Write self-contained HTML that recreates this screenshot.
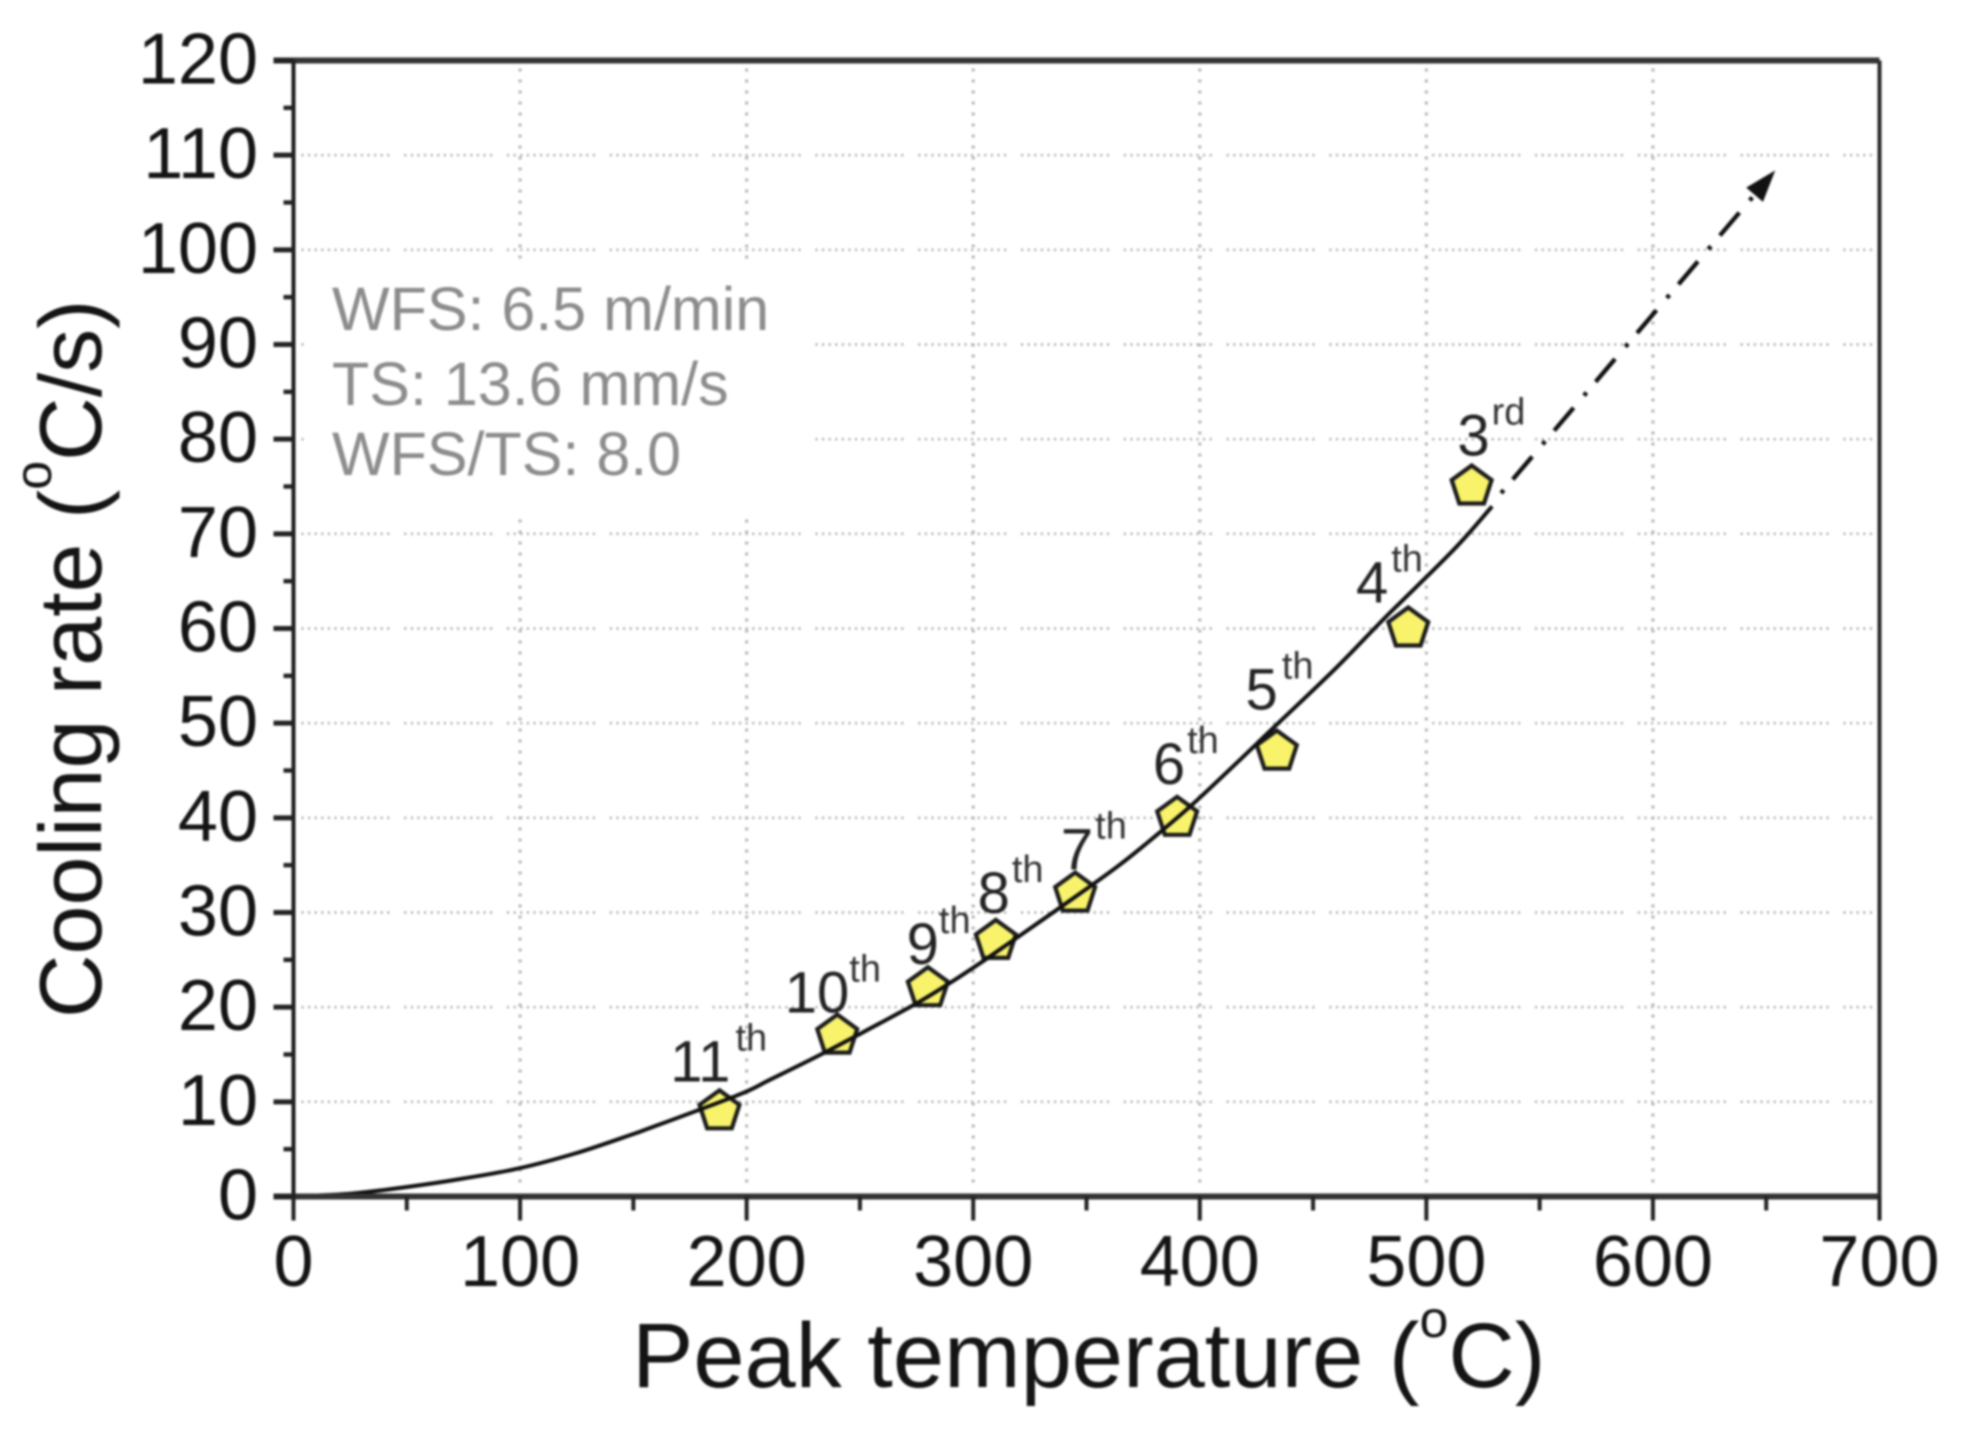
<!DOCTYPE html>
<html lang="en">
<head>
<meta charset="utf-8">
<title>Cooling rate vs peak temperature</title>
<style>
html,body{margin:0;padding:0;background:#fff;width:1968px;height:1435px;overflow:hidden}
svg{display:block;filter:blur(1.1px)}
text{font-family:"Liberation Sans",sans-serif;fill:#141414}
</style>
</head>
<body>
<svg id="chart" xmlns="http://www.w3.org/2000/svg" width="1968" height="1435" viewBox="0 0 1968 1435">
  <rect x="0" y="0" width="1968" height="1435" fill="#fff"/>
  <g id="grid"></g>
  <rect x="306" y="264" width="503" height="253" fill="#fff"/>
  <g font-size="61" style="fill:#8c8c8c">
    <text x="332" y="330" style="fill:#8c8c8c">WFS: 6.5 m/min</text>
    <text x="332" y="405" style="fill:#8c8c8c">TS: 13.6 mm/s</text>
    <text x="332" y="475" style="fill:#8c8c8c">WFS/TS: 8.0</text>
  </g>
  <g id="markers"></g>
  <g id="lines"></g>
  <g id="point-labels"></g>
  <g id="axes"></g>
  <text x="632" y="1387" font-size="92">Peak temperature (<tspan font-size="52" dy="-50">o</tspan><tspan dy="50">C)</tspan></text>
  <text transform="translate(101,1018) rotate(-90)" font-size="88">Cooling rate (<tspan font-size="52" dy="-50">o</tspan><tspan dy="50">C/s)</tspan></text>
</svg>
<script>
// Chart values
const xTicks = [0, 100, 200, 300, 400, 500, 600, 700];
const yTicks = [0, 10, 20, 30, 40, 50, 60, 70, 80, 90, 100, 110, 120];
const xMinorTicks = [50, 150, 250, 350, 450, 550, 650];
const yMinorTicks = [5, 15, 25, 35, 45, 55, 65, 75, 85, 95, 105, 115];

const pointTemps = [188, 240, 280, 310, 345, 390, 434, 492, 520];
const pointRates = [9, 17, 22, 27, 32, 40, 47, 60, 75];
const pointOrdinals = ['11', '10', '9', '8', '7', '6', '5', '4', '3'];
const pointSuffixes = ['th', 'th', 'th', 'th', 'th', 'th', 'th', 'th', 'rd'];

const fitTemps = [0, 25, 50, 75, 100, 125, 150, 157, 196, 210, 232, 251, 275, 290, 304, 319, 337, 353, 365, 378, 399, 432, 460, 482, 512, 529];
const fitRates = [0, 0.3, 1, 1.9, 3, 4.6, 6.6, 7.2, 10.7, 12.3, 14.9, 17.3, 20.4, 22.6, 24.8, 27.3, 30.3, 33, 35.1, 37.6, 41.9, 49.4, 55.8, 61.2, 68.3, 72.9];

const extrapolationTemps = [533, 654];
const extrapolationRates = [74.3, 108.4];

// Axis functions
const X0 = 293.5, X1 = 1879.5, Y0 = 1196.5, Y1 = 60.5;
const xScale = v => X0 + (v - 0) / 700 * (X1 - X0);
const yScale = v => Y0 - (v - 0) / 120 * (Y0 - Y1);

const NS = 'http://www.w3.org/2000/svg';
const make = (tag, parent) => { const el = document.createElementNS(NS, tag); parent.appendChild(el); return el; };
const setAll = (el, attrs) => { for (const k in attrs) el.setAttribute(k, attrs[k]); return el; };

const gridLayer = document.getElementById('grid');
const axesLayer = document.getElementById('axes');
const markerLayer = document.getElementById('markers');
const lineLayer = document.getElementById('lines');
const labelLayer = document.getElementById('point-labels');

// Horizontal grid dash: runs of fine dots separated by a wider gap
const hDash = [];
for (let i = 0; i < 14; i++) hDash.push(2, 4.6);
hDash[hDash.length - 1] = 15;
const hDashStr = hDash.join(' ');

yTicks.filter(t => t > 0 && t < 120).forEach(t => {
  const g = make('line', gridLayer);
  
  
  setAll(g, {x1: X0 + 8, x2: X1 - 6, y1: yScale(t), y2: yScale(t), stroke: '#a8a8a8', 'stroke-width': 2.4, 'stroke-dasharray': hDashStr});
});
xTicks.filter(t => t > 0 && t < 700).forEach(t => {
  const g = make('line', gridLayer);
  
  
  setAll(g, {x1: xScale(t), x2: xScale(t), y1: Y1 + 8, y2: Y0 - 12, stroke: '#b4b4b4', 'stroke-width': 3, 'stroke-dasharray': '3 8'});
});

// Markers
const R = 21;
pointTemps.forEach((t, i) => {
  const cx = xScale(t), cy = yScale(pointRates[i]);
  const pts = [];
  for (let k = 0; k < 5; k++) {
    const a = -Math.PI / 2 + k * 2 * Math.PI / 5;
    pts.push((cx + R * Math.cos(a)).toFixed(1) + ',' + (cy + R * Math.sin(a)).toFixed(1));
  }
  const p = make('polygon', markerLayer);
  
  
  setAll(p, {points: pts.join(' '), fill: '#f8f36a', stroke: '#1c1c1c', 'stroke-width': 4.2, 'stroke-linejoin': 'miter'});
});

// Fit curve, smoothed through the read points
const fitPts = fitTemps.map((t, i) => [xScale(t), yScale(fitRates[i])]);
let fitD = 'M' + fitPts[0][0].toFixed(1) + ' ' + fitPts[0][1].toFixed(1);
for (let i = 0; i < fitPts.length - 1; i++) {
  const a = fitPts[Math.max(i - 1, 0)], b = fitPts[i], c = fitPts[i + 1], e = fitPts[Math.min(i + 2, fitPts.length - 1)];
  fitD += ' C' + (b[0] + (c[0] - a[0]) / 6).toFixed(1) + ' ' + (b[1] + (c[1] - a[1]) / 6).toFixed(1) + ' ' +
       (c[0] - (e[0] - b[0]) / 6).toFixed(1) + ' ' + (c[1] - (e[1] - b[1]) / 6).toFixed(1) + ' ' +
       c[0].toFixed(1) + ' ' + c[1].toFixed(1);
}
const fitPath = make('path', lineLayer);


setAll(fitPath, {d: fitD, fill: 'none', stroke: '#101010', 'stroke-width': 4});

// Dash-dot extrapolation with arrow head
const ex0 = xScale(extrapolationTemps[0]), ey0 = yScale(extrapolationRates[0]);
const ex1 = xScale(extrapolationTemps[1]), ey1 = yScale(extrapolationRates[1]);
const extLen = Math.hypot(ex1 - ex0, ey1 - ey0), ux = (ex1 - ex0) / extLen, uy = (ey1 - ey0) / extLen;
const extLine = make('line', lineLayer);


setAll(extLine, {x1: ex0, y1: ey0, x2: ex1 - ux * 24, y2: ey1 - uy * 24, stroke: '#101010', 'stroke-width': 4.4, 'stroke-dasharray': '4 14 30 16'});
const arrowHead = make('polygon', lineLayer);


const bx = ex1 - ux * 32, by = ey1 - uy * 32, nx = -uy, ny = ux;
setAll(arrowHead, {points: [ex1 + ',' + ey1, (bx + nx * 11) + ',' + (by + ny * 11), (bx - nx * 11) + ',' + (by - ny * 11)].join(' '), fill: '#111'});

// Layout nudges for the point labels, relative to each marker (not data)
const labelNudgeX = [11, 12, 11, 14, 18, 8, 1, -20, 18];
const labelNudgeY = [-30, -23, -24, -28, -24, -34, -42, -26, -31];
const suffixNudgeX = [5, 0, 0, 2, 2, 2, 4, 3, 2];
pointTemps.forEach((t, i) => {
  const cx = xScale(t), cy = yScale(pointRates[i]);
  const ex = cx + labelNudgeX[i], by2 = cy + labelNudgeY[i];
  const n = make('text', labelLayer);
  
  
  setAll(n, {x: ex, y: by2, 'font-size': 58, 'text-anchor': 'end'});
  n.style.fill = '#222';
  n.textContent = pointOrdinals[i];
  const s = make('text', labelLayer);
  
  
  setAll(s, {x: ex + suffixNudgeX[i], y: by2 - 31, 'font-size': 38});
  s.style.fill = '#333';
  s.textContent = pointSuffixes[i];
});

// Axis frame
const frameLine = (x1, y1, x2, y2, w, col) => {
  const l = make('line', axesLayer);
  setAll(l, {x1, y1, x2, y2, stroke: col, 'stroke-width': w});
  return l;
};
const frameTop = frameLine(X0 - 20, Y1, X1, Y1, 6, '#333');


const frameBottom = frameLine(X0 - 20, Y0, X1, Y0, 6, '#333');


const frameLeft = frameLine(X0, Y1, X0, Y0 + 24, 4, '#1c1c1c');


const frameRight = frameLine(X1, Y1, X1, Y0 + 24, 4, '#2a2a2a');



yTicks.forEach(t => {
  const tk = frameLine(X0 - 20, yScale(t), X0, yScale(t), 5, '#222');
  
  
  const lb = make('text', axesLayer);
  
  
  setAll(lb, {x: 258, y: yScale(t) + 23, 'font-size': 72, 'text-anchor': 'end'});
  lb.textContent = String(t);
});
yMinorTicks.forEach(t => {
  const tk = frameLine(X0 - 10, yScale(t), X0, yScale(t), 4.4, '#222');
  
  
});
xTicks.forEach(t => {
  const tk = frameLine(xScale(t), Y0, xScale(t), Y0 + 24, 4, '#222');
  
  
  const lb = make('text', axesLayer);
  
  
  setAll(lb, {x: xScale(t), y: 1286, 'font-size': 72, 'text-anchor': 'middle'});
  lb.textContent = String(t);
});
xMinorTicks.forEach(t => {
  const tk = frameLine(xScale(t), Y0, xScale(t), Y0 + 14, 4, '#222');
  
  
});
</script>
</body>
</html>
